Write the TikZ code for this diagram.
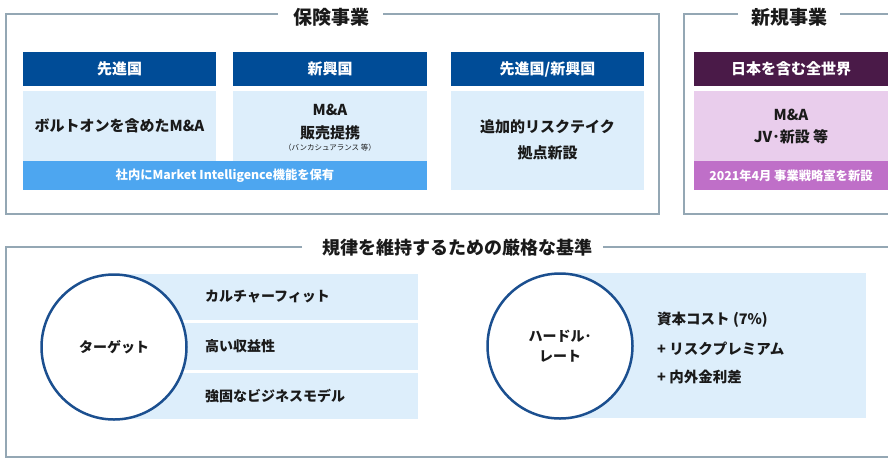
\documentclass[tikz,border=0pt]{standalone}
\usepackage{fontspec}
\setmainfont{Noto Sans CJK JP}
\definecolor{hdr}{HTML}{004C97}
\definecolor{lb}{HTML}{DDEEFB}
\definecolor{barb}{HTML}{4DA6F0}
\definecolor{pdark}{HTML}{4A1A48}
\definecolor{plight}{HTML}{E9CDEC}
\definecolor{pmid}{HTML}{BF6FC8}
\definecolor{frm}{HTML}{94A7B4}
\definecolor{circ}{HTML}{1B4F8F}
\definecolor{txt}{HTML}{1A1A1A}
\tikzset{
  boxr/.style={inner sep=0pt,outer sep=0pt,anchor=north west},
  hdrbox/.style={boxr,fill=#1,text=white,font=\bfseries\fontsize{15}{17}\selectfont},
  bodybox/.style={boxr,fill=#1},
  bartext/.style={boxr,fill=#1,text=white,font=\bfseries\fontsize{12.3}{14}\selectfont},
  frame/.style={draw=frm,line width=2pt},
  ttl/.style={text=txt,font=\bfseries\fontsize{19}{21}\selectfont,inner sep=0pt},
  bodytxt/.style={text=txt,font=\bfseries\fontsize{15}{17}\selectfont,inner sep=0pt,align=center},
  itemtxt/.style={text=txt,font=\bfseries\fontsize{14}{16}\selectfont,inner sep=0pt,anchor=west},
  circnode/.style={circle,draw=circ,line width=2.5pt,fill=white,minimum size=145pt,inner sep=0pt,text=txt,font=\bfseries\fontsize{14}{20}\selectfont,align=center},
}
\begin{document}
\begin{tikzpicture}[x=1pt,y=-1pt]
\useasboundingbox (0,0) rectangle (888,459);
\clip (0,0) rectangle (888,459);
% frames
\draw[frame] (278,14) -- (6,14) -- (6,214) -- (659,214) -- (659,14) -- (383,14);
\node[ttl] (t1) at (331,17) {保険事業};
\draw[frame] (738,14) -- (684,14) -- (684,214) -- (900,214);
\draw[frame] (840,14) -- (900,14);
\node[ttl] (t2) at (789,17) {新規事業};
\draw[frame] (302,247) -- (6,247) -- (6,457) -- (900,457);
\draw[frame] (603,247) -- (900,247);
\node[ttl,font=\bfseries\fontsize{18}{20}\selectfont] (t3) at (457,248) {規律を維持するための厳格な基準};
% insurance boxes
\node[hdrbox=hdr,minimum width=193pt,minimum height=34pt] (h1) at (23,52) {先進国};
\node[bodybox=lb,minimum width=193pt,minimum height=70pt] (b1) at (23,91) {};
\node[bodytxt] (b1t) at (b1.center) {ボルトオンを含めたM\&A};
\node[hdrbox=hdr,minimum width=194pt,minimum height=34pt] (h2) at (233,52) {新興国};
\node[bodybox=lb,minimum width=194pt,minimum height=70pt] (b2) at (233,91) {};
\node[bodytxt] (b2a) at (330,110) {M\&A};
\node[bodytxt] (b2b) at (330,133) {販売提携};
\node[text=txt,inner sep=0pt,font=\fontsize{7.5}{9}\selectfont] (b2c) at (330,148) {（バンカシュアランス 等）};
\node[bartext=barb,minimum width=404pt,minimum height=29pt] (bar1) at (23,161) {社内にMarket Intelligence機能を保有};
\node[hdrbox=hdr,minimum width=193pt,minimum height=34pt] (h3) at (451,52) {先進国/新興国};
\node[bodybox=lb,minimum width=193pt,minimum height=99pt] (b3) at (451,91) {};
\node[bodytxt] (b3a) at (547.5,127) {追加的リスクテイク};
\node[bodytxt] (b3b) at (547.5,153) {拠点新設};
% new business
\node[hdrbox=pdark,minimum width=194pt,minimum height=34pt] (h4) at (694,52) {日本を含む全世界};
\node[bodybox=plight,minimum width=194pt,minimum height=70pt] (b4) at (694,91) {};
\node[bodytxt] (b4a) at (791,115) {M\&A};
\node[bodytxt] (b4b) at (791,137) {JV･新設 等};
\node[bartext=pmid,minimum width=194pt,minimum height=29pt] (bar4) at (694,161) {2021年4月 事業戦略室を新設};
% target
\node[bodybox=lb,minimum width=304pt,minimum height=46pt] (r1) at (114,274) {};
\node[bodybox=lb,minimum width=304pt,minimum height=47pt] (r2) at (114,323) {};
\node[bodybox=lb,minimum width=304pt,minimum height=46pt] (r3) at (114,373) {};
\node[itemtxt] (r1t) at (205,297) {カルチャーフィット};
\node[itemtxt] (r2t) at (205,346.5) {高い収益性};
\node[itemtxt] (r3t) at (205,396) {強固なビジネスモデル};
\node[circnode] (c1) at (114,347) {ターゲット};
% hurdle
\node[bodybox=lb,minimum width=306pt,minimum height=145pt] (r4) at (560,273) {};
\node[itemtxt,font=\bfseries\fontsize{14.5}{16}\selectfont] (r4a) at (657,320) {資本コスト (7\%)};
\node[itemtxt,font=\bfseries\fontsize{14.5}{16}\selectfont] (r4b) at (657,348.5) {+ リスクプレミアム};
\node[itemtxt,font=\bfseries\fontsize{14.5}{16}\selectfont] (r4c) at (657,377) {+ 内外金利差};
\node[circnode] (c2) at (560,346) {ハードル･\\レート};
\end{tikzpicture}
\end{document}
